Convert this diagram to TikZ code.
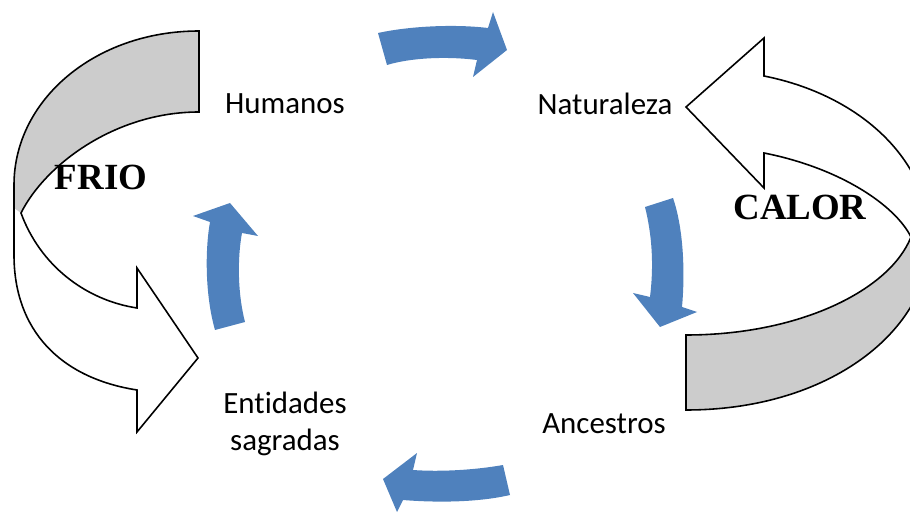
\documentclass[tikz,border=0pt]{standalone}
\usepackage{fontspec}
\setmainfont{Carlito}[Ligatures=NoCommon]
\newfontfamily\romanfont{Liberation Serif}
\definecolor{azul}{HTML}{4F81BD}
\definecolor{gris}{HTML}{CCCCCC}
\begin{document}
\begin{tikzpicture}[x=0.02cm,y=-0.02cm,
    etiqueta/.style={font=\fontsize{17.6}{21}\selectfont, align=center},
    clima/.style={font=\romanfont\bfseries\fontsize{21}{24}\selectfont},
    flechaazul/.style={fill=azul, draw=none},
    contorno/.style={draw=black, line width=0.9pt, line join=miter}]
    \useasboundingbox (0,0) rectangle (910,513);
    \clip (0,0) rectangle (910,513);

    % Flecha curva izquierda (FRIO)
    \fill[white] (199,31) .. controls (95,31) and (14,100) .. (14,185)
        -- (14,255) .. controls (14,330) and (60,378) .. (137,390)
        -- (137,432) -- (198,358) -- (137,268) -- (137,308)
        .. controls (85,300) and (40,265) .. (21,213)
        .. controls (45,165) and (115,112) .. (199,112) -- cycle;
    \fill[gris] (199,31) .. controls (95,31) and (14,100) .. (14,185)
        -- (14,208) -- (21,213) .. controls (45,165) and (115,112) .. (199,112) -- cycle;
    \path[contorno] (199,31) .. controls (95,31) and (14,100) .. (14,185)
        -- (14,255) .. controls (14,330) and (60,378) .. (137,390)
        -- (137,432) -- (198,358) -- (137,268) -- (137,308)
        .. controls (85,300) and (40,265) .. (21,213)
        .. controls (45,165) and (115,112) .. (199,112) -- cycle;

    % Flecha curva derecha (CALOR)
    \fill[white] (764,76) .. controls (860,95) and (930,160) .. (930,240)
        .. controls (930,330) and (830,410) .. (686,410) -- (686,335)
        .. controls (800,335) and (890,290) .. (911,237)
        .. controls (895,205) and (840,168) .. (764,153)
        -- (764,188) -- (686,107) -- (764,38) -- cycle;
    \fill[gris] (911,237) .. controls (890,290) and (800,335) .. (686,335)
        -- (686,410) .. controls (830,410) and (930,330) .. (930,240) -- cycle;
    \path[contorno] (764,76) .. controls (860,95) and (930,160) .. (930,240)
        .. controls (930,330) and (830,410) .. (686,410) -- (686,335)
        .. controls (800,335) and (890,290) .. (911,237)
        .. controls (895,205) and (840,168) .. (764,153)
        -- (764,188) -- (686,107) -- (764,38) -- cycle;

    % Flechas azules del ciclo
    \path[flechaazul] (378,33) .. controls (410,26) and (455,24) .. (488,28)
        -- (493,12) -- (507,50) -- (473,77) -- (477,60)
        .. controls (445,56) and (410,58) .. (387,65) -- cycle;
    \path[flechaazul] (673,198) .. controls (684,230) and (685,275) .. (682,307)
        -- (697,312) -- (660,327) -- (633,293) -- (650,297)
        .. controls (654,265) and (652,235) .. (645,207) -- cycle;
    \path[flechaazul] (503,465) .. controls (475,470) and (440,472) .. (413,470)
        -- (417,453) -- (383,479) -- (397,512) -- (403,500)
        .. controls (440,503) and (480,502) .. (510,495) -- cycle;
    \path[flechaazul] (215,330) .. controls (205,295) and (205,250) .. (210,222)
        -- (193,216) -- (230,203) -- (258,236) -- (242,233)
        .. controls (237,260) and (238,295) .. (245,322) -- cycle;

    % Etiquetas
    \node[etiqueta] (humanos) at (285,104) {Humanos};
    \node[etiqueta] (naturaleza) at (605,104) {Naturaleza};
    \node[etiqueta] (ancestros) at (604,424) {Ancestros};
    \node[etiqueta] (entidades) at (285,424) {Entidades\\sagradas};
    \node[clima] (frio) at (101,177) {FRIO};
    \node[clima] (calor) at (800,207) {CALOR};
\end{tikzpicture}
\end{document}
